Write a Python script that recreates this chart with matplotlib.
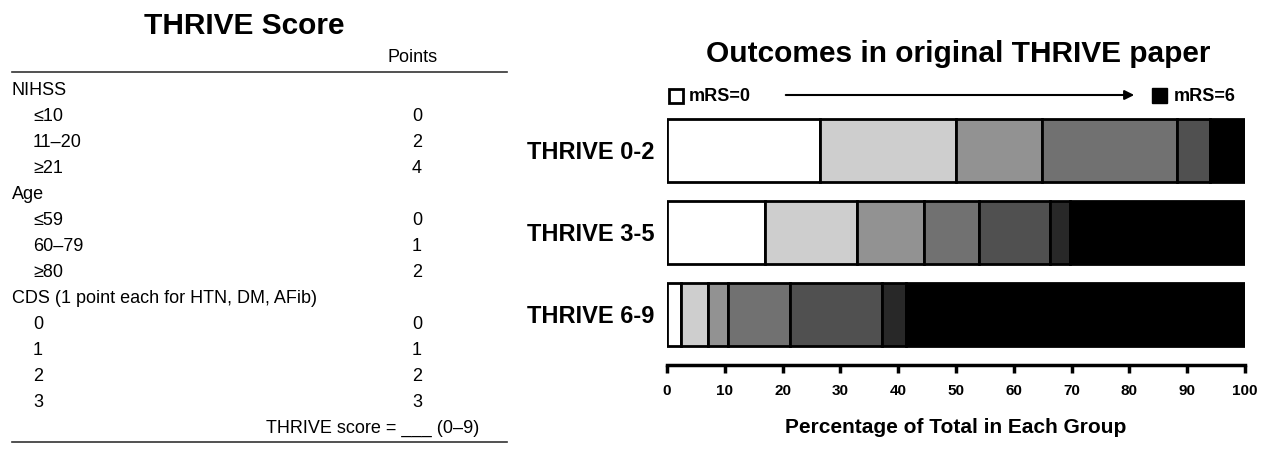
import numpy as np
import matplotlib
matplotlib.use('Agg')
import matplotlib.pyplot as plt
from matplotlib.patches import Rectangle, FancyArrowPatch
from matplotlib.lines import Line2D

plt.rcParams['font.family'] = ['Liberation Sans', 'DejaVu Sans']

# ---- data: THRIVE score table ----
table_labels = ['NIHSS', '≤10', '11–20', '≥21', 'Age', '≤59', '60–79', '≥80',
                'CDS (1 point each for HTN, DM, AFib)', '0', '1', '2', '3']
table_points = ['', '0', '2', '4', '', '0', '1', '2', '', '0', '1', '2', '3']
table_indent = [0, 1, 1, 1, 0, 1, 1, 1, 0, 1, 1, 1, 1]

# ---- data: outcomes (% of group in each mRS level 0..6) ----
groups = ['THRIVE 0-2', 'THRIVE 3-5', 'THRIVE 6-9']
thrive_0_2 = [26.5, 23.5, 14.8, 23.5, 5.7, 0.0, 6.0]
thrive_3_5 = [16.9, 16.0, 11.6, 9.5, 12.2, 3.5, 30.3]
thrive_6_9 = [2.5, 4.6, 3.5, 10.6, 16.0, 4.2, 58.6]
mrs_colors = ['#ffffff', '#cecece', '#929292', '#717171', '#505050', '#282828', '#000000']
x_ticks = [0, 10, 20, 30, 40, 50, 60, 70, 80, 90, 100]

W, H = 1274, 457
fig = plt.figure(figsize=(W / 100, H / 100), dpi=100)


def fx(x):
    return x / W


def fy(y):
    return 1 - y / H


tfs = 13  # table body font size

# ---- left: table ----
fig.text(fx(244), fy(34), 'THRIVE Score', ha='center', va='baseline',
         fontsize=21.5, fontweight='bold')
fig.text(fx(413), fy(62), 'Points', ha='center', va='baseline', fontsize=tfs)
fig.add_artist(Line2D([fx(12), fx(507)], [fy(72), fy(72)], color='#333333', lw=1.2))
for i, (lab, pts, ind) in enumerate(zip(table_labels, table_points, table_indent)):
    yb = 95 + i * 26
    fig.text(fx(12 + 21 * ind), fy(yb), lab, ha='left', va='baseline', fontsize=tfs)
    if pts:
        fig.text(fx(417), fy(yb), pts, ha='center', va='baseline', fontsize=tfs)
fig.text(fx(479), fy(433), 'THRIVE score = ___ (0–9)', ha='right', va='baseline',
         fontsize=tfs)
fig.add_artist(Line2D([fx(12), fx(507)], [fy(442), fy(442)], color='#333333', lw=1.2))

# ---- right: stacked bars ----
ax = fig.add_axes([fx(667), fy(365), fx(1245) - fx(667), (365 - 110) / H])
data = np.array([thrive_0_2, thrive_3_5, thrive_6_9])
ypos = [2, 1, 0]
lefts = np.zeros(len(groups))
for k in range(data.shape[1]):
    ax.barh(ypos, data[:, k], left=lefts, height=0.77, color=mrs_colors[k],
            edgecolor='black', linewidth=2)
    lefts += data[:, k]

ax.set_xlim(0, 100)
ax.set_ylim(-0.62, 2.49)
for s in ['top', 'right', 'left']:
    ax.spines[s].set_visible(False)
ax.spines['bottom'].set_linewidth(2.5)
ax.set_xticks(x_ticks)
ax.set_xticklabels([str(t) for t in x_ticks], fontweight='bold', fontsize=11)
ax.tick_params(axis='x', direction='out', length=6, width=2.5, pad=8)
ax.set_yticks(ypos)
ax.set_yticklabels(groups, fontweight='bold', fontsize=17)
ax.tick_params(axis='y', length=0, pad=9)
ax.set_xlabel('Percentage of Total in Each Group', fontweight='bold', fontsize=15, labelpad=14)

fig.text(fx(958), fy(62), 'Outcomes in original THRIVE paper', ha='center', va='baseline',
         fontsize=21.5, fontweight='bold')

# legend: mRS=0 -> mRS=6
fig.add_artist(Rectangle((fx(669), fy(103)), 14 / W, 14 / H, facecolor='white',
                         edgecolor='black', lw=2))
fig.text(fx(689), fy(101), 'mRS=0', ha='left', va='baseline', fontsize=13, fontweight='bold')
fig.add_artist(FancyArrowPatch((fx(783), fy(95)), (fx(1137), fy(95)), arrowstyle='-|>',
                               mutation_scale=14, color='black', lw=1.5))
fig.add_artist(Rectangle((fx(1152), fy(103)), 15 / W, 15 / H, facecolor='black',
                         edgecolor='black', lw=1))
fig.text(fx(1174), fy(101), 'mRS=6', ha='left', va='baseline', fontsize=13, fontweight='bold')

fig.savefig('out.png', dpi=100)
